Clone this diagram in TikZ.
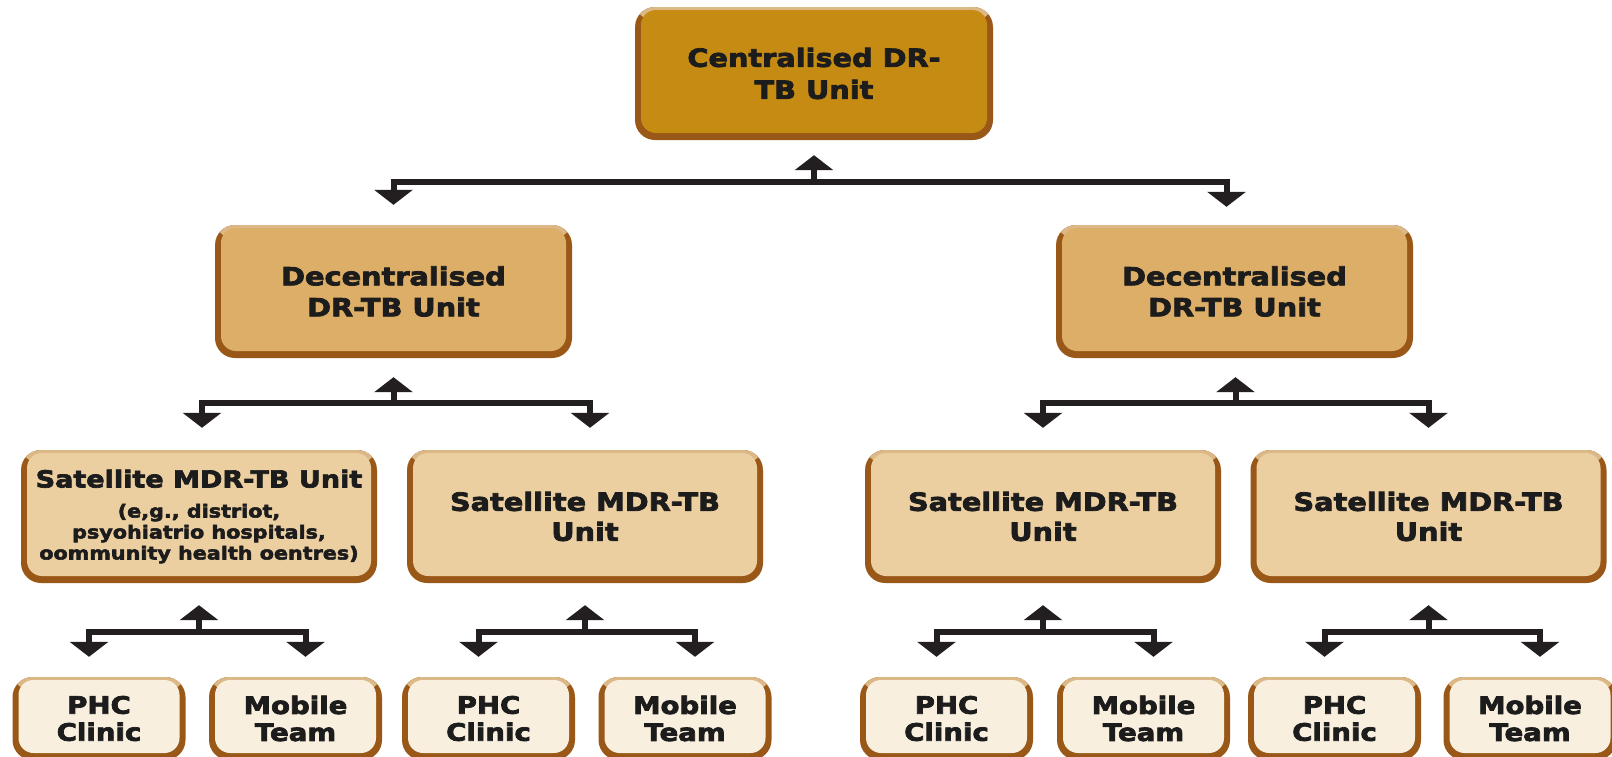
\documentclass[tikz,border=0pt]{standalone}
\usepackage{fontspec}
\newfontfamily\boxfont{DejaVu Sans}[FakeStretch=1.15, BoldFeatures={FakeBold=3}]
\usetikzlibrary{arrows.meta,calc}
\definecolor{rimlight}{HTML}{DDB887}
\definecolor{rim}{HTML}{9A5818}
\definecolor{fillA}{HTML}{C68B13}
\definecolor{fillB}{HTML}{DCAE67}
\definecolor{fillC}{HTML}{EBCFA1}
\definecolor{fillD}{HTML}{F8EFDE}
\definecolor{ink}{HTML}{1C1C1C}
\definecolor{conncol}{HTML}{231F20}
\tikzset{
  unitbox/.style={rounded corners=20pt, inner sep=0pt, align=center, text=ink,
    fill=rim,
    path picture={
      \fill[rimlight] (path picture bounding box.north west) rectangle
        ([yshift=-14pt]path picture bounding box.north east);
      \fill[#1, rounded corners=15pt]
      ([xshift=6pt,yshift=-3pt]path picture bounding box.north west) rectangle
      ([xshift=-6pt,yshift=7pt]path picture bounding box.south east);}},
  lvlA/.style={unitbox=fillA, minimum width=358pt, minimum height=133pt,
    font=\boxfont\bfseries\fontsize{25}{32}\selectfont},
  lvlB/.style={unitbox=fillB, minimum width=357pt, minimum height=133pt,
    font=\boxfont\bfseries\fontsize{25}{31}\selectfont},
  lvlC/.style={unitbox=fillC, minimum width=356pt, minimum height=133pt,
    font=\boxfont\bfseries\fontsize{25}{30}\selectfont},
  lvlCsmall/.style={unitbox=fillC, minimum width=356pt, minimum height=133pt,
    font=\boxfont\bfseries\fontsize{18}{21}\selectfont},
  lvlD/.style={unitbox=fillD, minimum width=173pt, minimum height=83pt,
    font=\boxfont\bfseries\fontsize{24}{27}\selectfont},
  conn/.style={draw=conncol, line width=6pt, -{Triangle[width=38pt,length=15pt]}}
}
\begin{document}
\begin{tikzpicture}[x=1pt,y=-1pt]
\useasboundingbox (0,0) rectangle (1612,756);
\fill[white] (0,0) rectangle (1612,756);
\clip (0,0) rectangle (1612,756);
% nodes
\node[lvlA] (top) at (814,73.5) {Centralised DR-\\TB Unit};
\node[lvlB] (decL) at (393.5,291.5) {Decentralised\\DR-TB Unit};
\node[lvlB] (decR) at (1234.5,291.5) {Decentralised\\DR-TB Unit};
\node[lvlCsmall] (sat1) at (199,516.5) {{\fontsize{23.5}{21}\selectfont Satellite MDR-TB Unit}\\[9pt](e,g., distriot,\\psyohiatrio hospitals,\\oommunity health oentres)};
\node[lvlC] (sat2) at (585,516.5) {Satellite MDR-TB\\Unit};
\node[lvlC] (sat3) at (1043,516.5) {Satellite MDR-TB\\Unit};
\node[lvlC] (sat4) at (1428.5,516.5) {Satellite MDR-TB\\Unit};
\node[lvlD] (phc1) at (99,718.5) {PHC\\Clinic};
\node[lvlD] (mob1) at (295.5,718.5) {Mobile\\Team};
\node[lvlD] (phc2) at (488.5,718.5) {PHC\\Clinic};
\node[lvlD] (mob2) at (685,718.5) {Mobile\\Team};
\node[lvlD] (phc3) at (946.5,718.5) {PHC\\Clinic};
\node[lvlD] (mob3) at (1143.5,718.5) {Mobile\\Team};
\node[lvlD] (phc4) at (1334.5,718.5) {PHC\\Clinic};
\node[lvlD] (mob4) at (1530,718.5) {Mobile\\Team};
% top connectors
\coordinate (jT) at ($(top.south)+(0,42)$);
\draw[conn] (jT) -- ($(top.south)+(0,15)$);
\draw[conn] (jT) -| ($(decL.north)+(0,-20)$);
\draw[conn] (jT) -| ($(decR.north)+(-8,-18)$);
% level 2 connectors
\coordinate (jL) at ($(decL.south)+(0,45)$);
\draw[conn] (jL) -- ($(decL.south)+(0,19)$);
\draw[conn] (jL) -| ($(sat1.north)+(3,-22)$);
\draw[conn] (jL) -| ($(sat2.north)+(5,-22)$);
\coordinate (jR) at ($(decR.south)+(1,45)$);
\draw[conn] (jR) -- ($(decR.south)+(1,19)$);
\draw[conn] (jR) -| ($(sat3.north)+(0,-22)$);
\draw[conn] (jR) -| ($(sat4.north)+(0,-22)$);
% level 3 connectors
\foreach \s/\p/\m in {sat1/phc1/mob1, sat2/phc2/mob2, sat3/phc3/mob3, sat4/phc4/mob4}{
  \coordinate (j\s) at ($(\s.south)+(0,49)$);
  \draw[conn] (j\s) -- ($(\s.south)+(0,22)$);
  \draw[conn] (j\s) -| ($(\p.north)+(-10,-20)$);
  \draw[conn] (j\s) -| ($(\m.north)+(10,-20)$);
}
\end{tikzpicture}
\end{document}
